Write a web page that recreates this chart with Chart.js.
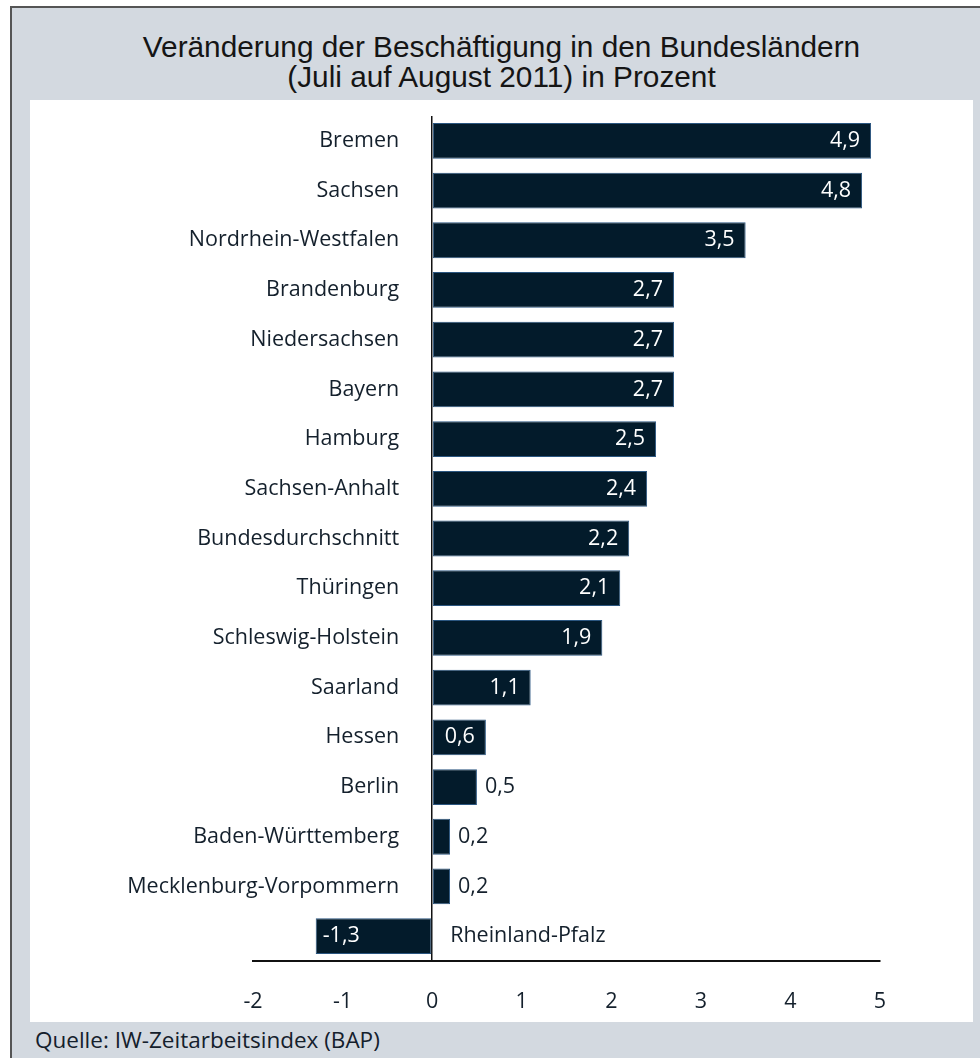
<!DOCTYPE html>
<html>
<head>
<meta charset="utf-8">
<script src="https://cdn.jsdelivr.net/npm/chart.js@4/dist/chart.umd.min.js"></script>
<style>
  body { margin: 0; background: #fff; }
  #frame {
    position: absolute; left: 10px; top: 6px; width: 970px; height: 1052px;
    background: #d3d9e0; border-left: 2px solid #555; border-top: 2px solid #555;
    box-sizing: border-box;
  }
  #title {
    position: absolute; left: 30px; width: 943px; top: 32px;
    text-align: center; font-family: "Liberation Sans", Arial, sans-serif;
    font-size: 29.8px; line-height: 30px; color: #151515;
  }
  #panel { position: absolute; left: 30px; top: 100px; width: 943px; height: 922px; background: #fff; }
  #source {
    position: absolute; left: 35px; top: 1025px; line-height: 30px;
    font-family: "Open Sans", sans-serif; font-size: 22.5px; color: #14202c;
  }
</style>
</head>
<body>
<div id="frame"></div>
<div id="title">Veränderung der Beschäftigung in den Bundesländern<br>(Juli auf August 2011) in Prozent</div>
<div id="panel"><canvas id="myChart" width="943" height="922"></canvas></div>
<div id="source">Quelle: IW-Zeitarbeitsindex (BAP)</div>
<script>
const states = ["Bremen", "Sachsen", "Nordrhein-Westfalen", "Brandenburg", "Niedersachsen", "Bayern",
  "Hamburg", "Sachsen-Anhalt", "Bundesdurchschnitt", "Thüringen", "Schleswig-Holstein", "Saarland",
  "Hessen", "Berlin", "Baden-Württemberg", "Mecklenburg-Vorpommern", "Rheinland-Pfalz"];
const changes = [4.9, 4.8, 3.5, 2.7, 2.7, 2.7, 2.5, 2.4, 2.2, 2.1, 1.9, 1.1, 0.6, 0.5, 0.2, 0.2, -1.3];
const xMin = -2;
const xMax = 5;

const labelFont = '21.5px "Open Sans", sans-serif';
const textColor = '#14202c';

const fmt = v => v.toFixed(1).replace('.', ',');

// category names + value labels drawn next to the bars
const barLabels = {
  id: 'barLabels',
  afterDatasetsDraw(chart) {
    const ctx = chart.ctx;
    const zero = chart.scales.x.getPixelForValue(0);
    const bars = chart.getDatasetMeta(0).data;
    ctx.save();
    ctx.font = labelFont;
    ctx.textBaseline = 'middle';
    bars.forEach((bar, i) => {
      const v = changes[i];
      // category name
      ctx.fillStyle = textColor;
      if (v >= 0) {
        ctx.textAlign = 'right';
        ctx.fillText(states[i], zero - 33, bar.y);
      } else {
        ctx.textAlign = 'left';
        ctx.fillText(states[i], zero + 18, bar.y);
      }
      // value
      if (v < 0) {
        ctx.fillStyle = '#fff';
        ctx.textAlign = 'left';
        ctx.fillText(fmt(v), bar.x + 7, bar.y);
      } else if (v >= 0.6) {
        ctx.fillStyle = '#fff';
        ctx.textAlign = 'right';
        ctx.fillText(fmt(v), bar.x - 11, bar.y);
      } else {
        ctx.fillStyle = textColor;
        ctx.textAlign = 'left';
        ctx.fillText(fmt(v), bar.x + 8, bar.y);
      }
    });
    ctx.restore();
  }
};

var ctx = document.getElementById("myChart").getContext("2d");
var myBarChart = new Chart(ctx, {
  type: "bar",
  data: {
    labels: states,
    datasets: [{
      data: changes,
      backgroundColor: "#031b2b",
      borderColor: "#2b5680",
      borderWidth: 1,
      borderSkipped: false,
      categoryPercentage: 1,
      barPercentage: 0.72
    }]
  },
  options: {
    indexAxis: 'y',
    responsive: false,
    animation: false,
    layout: { padding: { left: 223, right: 93, top: 16, bottom: 7 } },
    plugins: { legend: { display: false }, tooltip: { enabled: false } },
    scales: {
      x: {
        min: xMin,
        max: xMax,
        afterFit: scale => { scale.height = 54; },
        ticks: {
          stepSize: 1,
          padding: 28,
          color: textColor,
          font: { family: '"Open Sans", sans-serif', size: 21.5 }
        },
        grid: {
          drawTicks: false,
          lineWidth: 1.5,
          color: c => (c.tick && c.tick.value === 0) ? '#111' : 'rgba(0,0,0,0)'
        },
        border: { display: true, color: '#111', width: 2 }
      },
      y: { display: false }
    }
  },
  plugins: [barLabels]
});
</script>
</body>
</html>
